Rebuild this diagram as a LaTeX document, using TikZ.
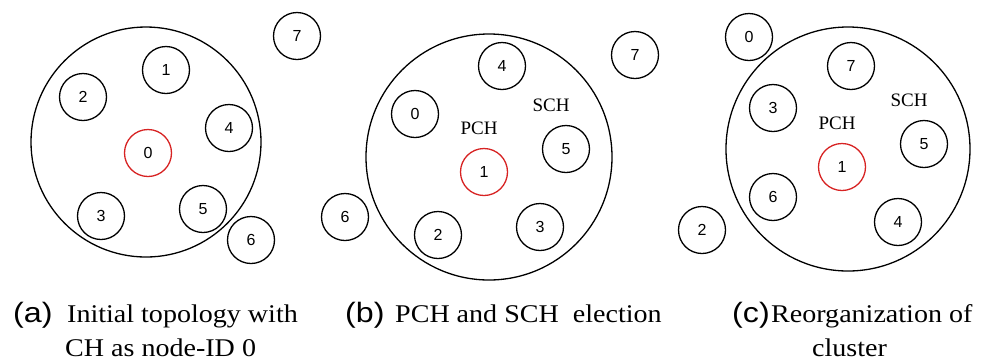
\documentclass[tikz,border=0pt]{standalone}
\usepackage{fontspec}
\setmainfont{Liberation Serif}
\newfontfamily\capfont[FakeStretch=1.1]{Liberation Serif}
\newfontfamily\labfont[FakeStretch=1.15]{Liberation Sans}
\newfontfamily\numfont{Liberation Sans}
\definecolor{chred}{RGB}{215,35,35}
\tikzset{
  sn/.style={circle,draw,line width=1.3pt,minimum size=47pt,inner sep=0pt,font=\numfont\fontsize{16}{16}\selectfont},
  chn/.style={sn,draw=chred},
  bigc/.style={circle,draw,line width=1.3pt,inner sep=0pt},
  tag/.style={font=\fontsize{19}{19}\selectfont,inner sep=0pt},
  caplbl/.style={anchor=base west,inner sep=0pt,font=\labfont\fontsize{28}{28}\selectfont},
  captxt/.style={anchor=base west,inner sep=0pt,font=\capfont\fontsize{25.5}{25.5}\selectfont}
}
\begin{document}
\begin{tikzpicture}[x=1pt,y=-1pt]
\useasboundingbox (0,0) rectangle (999,360);
% panel a
\node[bigc,minimum size=230pt] (A) at (146,142) {};
\node[sn] (a1) at (166,70) {1};
\node[sn] (a2) at (83,97) {2};
\node[sn] (a4) at (229,128) {4};
\node[chn] (a0) at (148,153) {0};
\node[sn] (a3) at (101,216) {3};
\node[sn] (a5) at (203,209) {5};
\node[sn] (a6) at (251,240) {6};
\node[sn] (a7) at (297,36) {7};
% panel b
\node[bigc,minimum size=246pt] (B) at (489,157) {};
\node[sn] (b4) at (502,66) {4};
\node[sn] (b0) at (415,114) {0};
\node[tag] (bp) at (479,128) {PCH};
\node[tag] (bs) at (551,105) {SCH};
\node[chn] (b1) at (484,172) {1};
\node[sn] (b5) at (566,149) {5};
\node[sn] (b3) at (540,227) {3};
\node[sn] (b2) at (438,235) {2};
\node[sn] (b6) at (345,217) {6};
\node[sn] (b7) at (635,55) {7};
% panel c
\node[bigc,minimum size=244pt] (C) at (848,149) {};
\node[sn] (c0) at (749,37) {0};
\node[sn] (c7) at (851,66) {7};
\node[sn] (c3) at (773,108) {3};
\node[tag] (cs) at (909,100) {SCH};
\node[tag] (cp) at (837,123) {PCH};
\node[sn] (c5) at (924,144) {5};
\node[chn] (c1) at (842,167) {1};
\node[sn] (c6) at (773,197) {6};
\node[sn] (c4) at (898,222) {4};
\node[sn] (c2) at (702,230) {2};
% captions
\node[caplbl] (la) at (13,322) {(a)};
\node[captxt] (ta1) at (67,322) {Initial topology with};
\node[captxt] (ta2) at (65,356) {CH as node-ID 0};
\node[caplbl] (lb) at (345,322) {(b)};
\node[captxt] (tb1) at (395,322) {PCH and SCH\ \ election};
\node[caplbl] (lc) at (732,322) {(c)};
\node[captxt] (tc1) at (771,322) {Reorganization of};
\node[captxt] (tc2) at (812,356) {cluster};
\end{tikzpicture}
\end{document}
